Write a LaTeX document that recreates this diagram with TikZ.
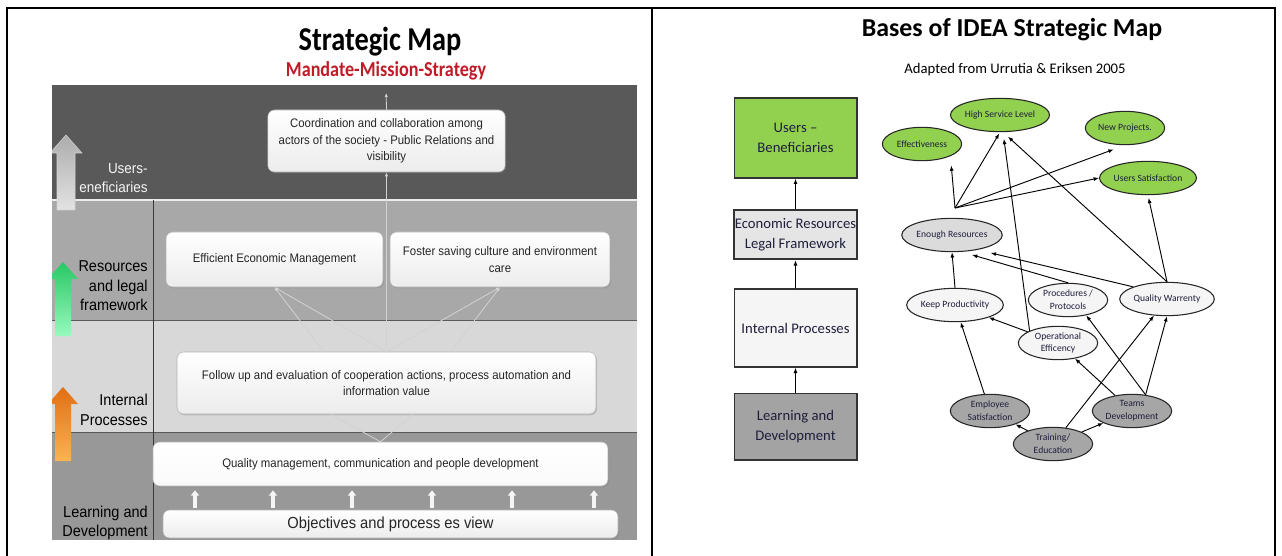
\documentclass[tikz,border=0pt]{standalone}
\usepackage{fontspec}
\setmainfont{Carlito}
\newfontfamily\narrowfont[FakeStretch=0.92]{Liberation Sans}
\newfontfamily\titlefont[FakeStretch=0.85]{Carlito}
\usepackage{tikz}
\usetikzlibrary{arrows.meta,calc,shapes.geometric,shadows}
\definecolor{BandDark}{RGB}{89,89,89}
\definecolor{BandMid}{RGB}{168,168,168}
\definecolor{BandLight}{RGB}{216,216,216}
\definecolor{BandLow}{RGB}{152,152,152}
\definecolor{MandateRed}{RGB}{192,28,40}
\definecolor{GreenGoal}{RGB}{146,208,80}
\definecolor{InkNavy}{RGB}{30,30,60}
\definecolor{GreenArrowTop}{RGB}{40,200,100}
\definecolor{GreenArrowBot}{RGB}{150,250,190}
\definecolor{OrangeArrowTop}{RGB}{225,110,20}
\definecolor{OrangeArrowBot}{RGB}{250,180,80}

\begin{document}
\begin{tikzpicture}[x=0.75pt,y=-0.75pt,>=Latex,
  goalbox/.style={draw=gray!60,rounded corners=5pt,top color=white,bottom color=gray!15,
    drop shadow={opacity=0.35,shadow xshift=0.8pt,shadow yshift=-1pt},
    align=center,inner sep=2pt,text=black!85,font=\narrowfont\fontsize{9.3}{12.4}\selectfont},
  lanelabel/.style={anchor=east,align=right,inner sep=0pt,font=\narrowfont\fontsize{11.8}{14.6}\selectfont},
  panelbox/.style={draw=black!80,line width=1pt,minimum width=92pt,align=center,inner sep=0pt,
    text=InkNavy,font=\fontsize{11}{15}\selectfont},
  bubble/.style={ellipse,draw=black!85,line width=0.8pt,minimum width=59.5pt,minimum height=25pt,
    inner sep=0pt,align=center,text=InkNavy,font=\fontsize{7.2}{9.5}\selectfont},
  link/.style={->,line width=0.7pt,>={Latex[length=4pt,width=3pt]}},
  faint/.style={->,gray!35,line width=0.6pt,>={Latex[length=3pt,width=2.5pt]}}]
  \useasboundingbox (0,0) rectangle (1282,556);

  % table frame
  \draw[line width=1.4pt] (7,556) -- (7,8) -- (1275,8) -- (1275,556);
  \draw[line width=1.4pt] (652,8) -- (652,556);

  % left: strategic map
  \node[font=\titlefont\bfseries\fontsize{25}{28}\selectfont] (maptitle) at (380,42) {Strategic Map};
  \node[font=\titlefont\bfseries\fontsize{16}{19}\selectfont,text=MandateRed] (mission) at (386,71) {Mandate-Mission-Strategy};

  \begin{scope}
    \clip (52,85) rectangle (637,540);
    \fill[BandDark] (52,85) rectangle (637,200);
    \fill[BandMid] (52,200) rectangle (637,320);
    \fill[BandLight] (52,320) rectangle (637,432);
    \fill[BandLow] (52,432) rectangle (637,540);
    \draw[white!85!gray,line width=0.8pt] (52,200) -- (637,200);
    \draw[gray!70!black,line width=0.5pt] (52,320) -- (637,320);
    \draw[gray!70!black,line width=0.5pt] (52,432) -- (637,432);
    \draw[gray!45!black,line width=0.5pt] (153,200) -- (153,540);
    \node[lanelabel,text=gray!8,font=\narrowfont\fontsize{11}{14.6}\selectfont] (lblusers) at (148,178) {Users-\\eneficiaries};
    \node[lanelabel] (lblres) at (148,286) {Resources\\and legal\\framework};
    \node[lanelabel] (lblint) at (148,410) {Internal\\Processes};
    \node[lanelabel] (lbllearn) at (148,523) {Learning and\\Development};
    \shade[top color=gray!65,bottom color=gray!22,draw=gray!35] (57,210) -- (57,153) -- (50,153) -- (66,135) -- (82,153) -- (75,153) -- (75,210) -- cycle;
    \shade[top color=GreenArrowTop,bottom color=GreenArrowBot] (55,336) -- (55,279) -- (48,279) -- (63,262) -- (78,279) -- (71,279) -- (71,336) -- cycle;
    \shade[top color=OrangeArrowTop,bottom color=OrangeArrowBot] (55,461) -- (55,404) -- (48,404) -- (63,387) -- (78,404) -- (71,404) -- (71,461) -- cycle;
  \end{scope}

  \node[goalbox,minimum width=178pt,minimum height=46.5pt] (coord) at (386.5,141)
    {Coordination and collaboration  among\\actors of the society - Public Relations and\\visibility};
  \node[goalbox,minimum width=162.75pt,minimum height=41.25pt] (econ) at (274.5,259.5) {Efficient Economic Management};
  \node[goalbox,minimum width=165pt,minimum height=41.25pt] (foster) at (500,259.5)
    {Foster saving culture and environment\\care};
  \node[goalbox,minimum width=314.25pt,minimum height=46.5pt] (follow) at (386.5,383)
    {Follow up and  evaluation of cooperation actions,  process automation and\\information value};
  \node[goalbox,minimum width=341.25pt,minimum height=33pt,bottom color=gray!4] (quality) at (380.5,464)
    {Quality management, communication and people development};
  \node[goalbox,minimum width=341.25pt,minimum height=21pt,font=\narrowfont\fontsize{12}{14}\selectfont] (objectives) at (390.5,524)
    {Objectives and process es view};

  \draw[faint] (follow.north) -- (coord.south);
  \draw[faint,shorten >=6pt] (coord.north) -- (mission.south);
  \draw[faint] (follow.north) -- (econ.south);
  \draw[faint] ([xshift=-47pt]follow.north) -- (econ.south);
  \draw[faint] (follow.north) -- (foster.south);
  \draw[faint] ([xshift=48pt]follow.north) -- (foster.south);
  \draw[gray!35,line width=0.6pt] ([xshift=-42pt]follow.south) -- (quality.north) -- ([xshift=20pt]follow.south);
  \foreach \px in {195,273,352,432,512,594}
    \draw[white!92!gray,line width=2.6pt,-{Triangle[width=6pt,length=4pt]},shorten <=1.5pt,shorten >=3pt]
      (\px,0 |- objectives.north) -- (\px,0 |- quality.south);

  % right: bases of the map
  \node[font=\bfseries\fontsize{19.4}{22}\selectfont] (basestitle) at (1012,30) {Bases of IDEA Strategic Map};
  \node[font=\fontsize{11}{13}\selectfont] (adapted) at (1015,70) {Adapted from Urrutia \& Eriksen 2005};

  \node[panelbox,fill=GreenGoal,minimum height=60pt] (users) at (795.5,138) {Users --\\Beneficiaries};
  \node[panelbox,fill=black!10,line width=1.5pt,minimum height=37pt] (econres) at (795.5,234.5) {Economic Resources\\Legal Framework};
  \node[panelbox,fill=black!4,minimum height=58.5pt] (internal) at (795.5,328) {Internal Processes};
  \node[panelbox,fill=black!36,minimum height=50pt] (learning) at (795.5,426.5) {Learning and\\Development};
  \draw[link] (learning.north) -- (internal.south);
  \draw[link] (internal.north) -- (econres.south);
  \draw[link] (econres.north) -- (users.south);

  \node[bubble,fill=GreenGoal] (effect) at (922,144) {Effectiveness};
  \node[bubble,fill=GreenGoal] (highsvc) at (1000,115) {High Service Level};
  \node[bubble,fill=GreenGoal] (newproj) at (1125,128) {New Projects.};
  \node[bubble,fill=GreenGoal] (usersat) at (1148,178) {Users Satisfaction};
  \node[bubble,fill=black!14] (enough) at (952,235) {Enough Resources};
  \node[bubble,fill=black!4] (keepprod) at (955,305) {Keep Productivity};
  \node[bubble,fill=black!4] (proc) at (1068,300) {Procedures /\\Protocols};
  \node[bubble,fill=black!4] (qualw) at (1167,299) {Quality Warrenty};
  \node[bubble,fill=black!4] (opeff) at (1058,343) {Operational\\Efficency};
  \node[bubble,fill=black!35] (empsat) at (990,411) {Employee\\Satisfaction};
  \node[bubble,fill=black!35] (teams) at (1132,411) {Teams\\Development};
  \node[bubble,fill=black!35] (train) at (1053,444) {Training/\\Education};
  \coordinate (hub) at (955,208);

  \draw[link,shorten >=7pt] (hub) -- (effect.south east);
  \draw[link,shorten >=1pt] (hub) -- (highsvc.south);
  \draw[link,shorten >=9pt] (hub) -- (newproj.south);
  \draw[link] (hub) -- (usersat.west);
  \draw[link,shorten >=5pt] (qualw.north) -- (highsvc.-80);
  \draw[link,shorten >=5pt] (opeff.north west) -- (highsvc.-80);
  \draw[link,shorten >=2pt] (qualw.north) -- (usersat.south);
  \draw[link,shorten >=10pt] (qualw.north west) -- (enough.-30);
  \draw[link,shorten >=8pt] (proc.north) -- (enough.-60);
  \draw[link] (keepprod.north) -- (enough.south);
  \draw[link] (opeff) -- (keepprod);
  \draw[link] (empsat) -- (keepprod);
  \draw[link] (train) -- (empsat);
  \draw[link] (train) -- (teams);
  \draw[link] (train) -- (qualw);
  \draw[link] (teams) -- (opeff);
  \draw[link] (teams.50) -- (proc.-40);
  \draw[link] (teams.50) -- (qualw.south);
\end{tikzpicture}
\end{document}
